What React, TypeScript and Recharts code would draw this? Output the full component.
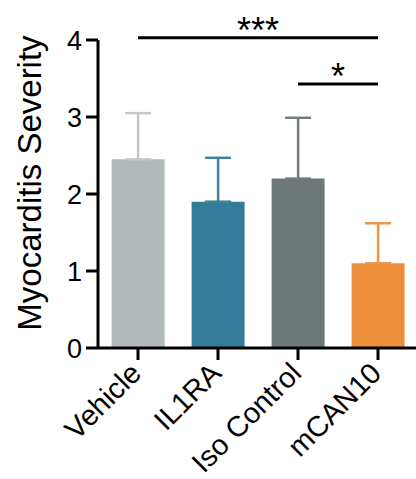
import { BarChart, Bar, XAxis, YAxis, Cell, ErrorBar, ReferenceLine, Label } from "recharts";

const groups = ["Vehicle", "IL1RA", "Iso Control", "mCAN10"];
const severity = [2.45, 1.9, 2.2, 1.1];
const sem = [0.6, 0.57, 0.79, 0.52];
const barColors = ["#b3babb", "#347a99", "#6e7878", "#ec8f3b"];
const errColors = ["#c3c9ca", "#3d80a0", "#737d7d", "#ef9446"];

// significance brackets: from, to, height, stars
const sigFrom = ["Vehicle", "Iso Control"];
const sigTo = ["mCAN10", "mCAN10"];
const sigY = [4.03, 3.43];
const sigStars = ["***", "*"];

const data = groups.map((g, i) => ({ group: g, value: severity[i], err: [0, sem[i]] }));

const FONT = "'Liberation Sans', Arial, Helvetica, sans-serif";

function XTick({ x, y, payload }: any) {
  const ax = x + 5;
  const ay = y + 15;
  return (
    <text
      x={ax}
      y={ay}
      transform={`rotate(-45, ${ax}, ${ay})`}
      textAnchor="end"
      fontSize={29}
      fontFamily={FONT}
      fill="#000"
    >
      {payload.value}
    </text>
  );
}

function YLabel({ viewBox }: any) {
  const cy = viewBox.y + viewBox.height / 2 - 11;
  return (
    <text
      x={41}
      y={cy}
      transform={`rotate(-90, 41, ${cy})`}
      textAnchor="middle"
      fontSize={33}
      fontFamily={FONT}
      fill="#000"
    >
      Myocarditis Severity
    </text>
  );
}

const errCss = errColors
  .map((c, i) => `.recharts-errorBar:nth-child(${i + 1}) line { stroke: ${c}; }`)
  .join("\n");

export default function App() {
  return (
    <div style={{ width: 416, height: 479, overflow: "hidden", background: "#fff" }}>
      <style>{`body { margin: 0; } ${errCss}`}</style>
      <BarChart
        width={418}
        height={479}
        data={data}
        margin={{ top: 40, right: 0, bottom: 0, left: 0 }}
        barCategoryGap="17%"
        style={{ fontFamily: FONT }}
      >
        <XAxis
          dataKey="group"
          interval={0}
          tickSize={12}
          tickMargin={0}
          stroke="#000"
          strokeWidth={3}
          tick={<XTick />}
          height={131}
        />
        <YAxis
          domain={[0, 4]}
          ticks={[0, 1, 2, 3, 4]}
          width={98}
          tickSize={12}
          tickMargin={4}
          stroke="#000"
          strokeWidth={3}
          tick={{ fontSize: 27, fill: "#000", fontFamily: FONT }}
          allowDataOverflow
        >
          <Label content={<YLabel />} />
        </YAxis>
        <Bar dataKey="value" isAnimationActive={false}>
          {data.map((d, i) => (
            <Cell key={d.group} fill={barColors[i]} />
          ))}
          <ErrorBar dataKey="err" direction="y" width={13} strokeWidth={2.5} stroke="#888" isAnimationActive={false} />
        </Bar>
        {sigY.map((v, i) => (
          <ReferenceLine
            key={sigStars[i]}
            segment={[
              { x: sigFrom[i], y: v },
              { x: sigTo[i], y: v },
            ]}
            stroke="#000"
            strokeWidth={3}
            ifOverflow="visible"
            label={{ value: sigStars[i], position: "top", offset: -5, fontSize: 36, fill: "#000", fontFamily: FONT }}
          />
        ))}
      </BarChart>
    </div>
  );
}
